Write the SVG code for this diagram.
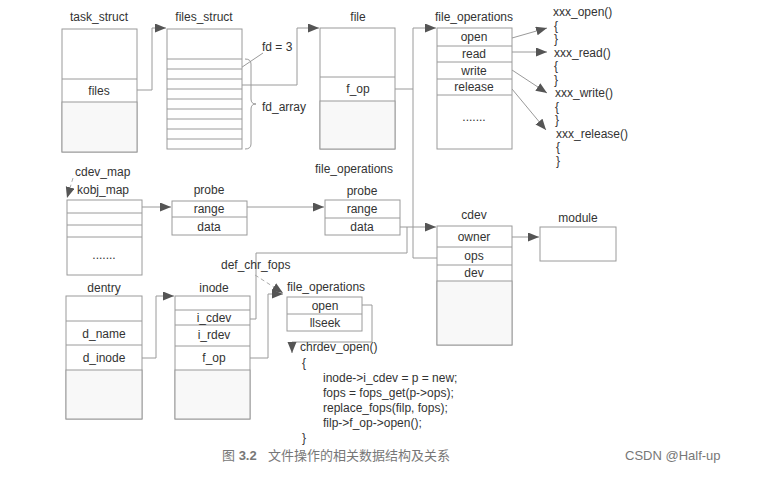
<svg xmlns="http://www.w3.org/2000/svg" width="758" height="479" viewBox="0 0 758 479">
<style>
.bx{fill:#fff;stroke:#9a9a9a;stroke-width:1}
.sh{fill:#f8f8f8;stroke:#9a9a9a;stroke-width:1}
.dv{stroke:#9a9a9a;stroke-width:1;fill:none}
.ln{fill:none;stroke:#9a9a9a;stroke-width:1}
.ds{fill:none;stroke:#aaa;stroke-width:1;stroke-dasharray:4 3}
text{font-family:"Liberation Sans",Arial,sans-serif;font-size:12px;fill:#333}
.c{text-anchor:middle}
.cap{font-family:"Liberation Sans","Noto Sans CJK SC",sans-serif;font-size:13px;fill:#777}
</style>
<defs>
<marker id="ah" markerUnits="userSpaceOnUse" markerWidth="12" markerHeight="10" refX="11" refY="4.5" orient="auto">
<path d="M0,0 L11,4.5 L0,9 z" fill="#555"/>
</marker>
</defs>
<rect width="758" height="479" fill="#fff"/>

<g id="connectors">
<polyline class="ln" points="137,90 152,90 152,28 166,28" marker-end="url(#ah)"/>
<polyline class="ln" points="242,85 297,85 297,28 319,28" marker-end="url(#ah)"/>
<polyline class="ln" points="395,89 413,89 413,28 436,28" marker-end="url(#ah)"/>
<polyline class="ln" points="413,89 413,258 437,258"/>
<line class="ln" x1="512" y1="38" x2="547" y2="28" marker-end="url(#ah)"/>
<line class="ln" x1="512" y1="52" x2="547" y2="52" marker-end="url(#ah)"/>
<line class="ln" x1="512" y1="70" x2="547" y2="93" marker-end="url(#ah)"/>
<line class="ln" x1="512" y1="89" x2="546" y2="130" marker-end="url(#ah)"/>
<line class="ln" x1="263" y1="53" x2="220" y2="82"/>
<path class="ln" d="M245,59 Q251,59 251,64 L251,99 Q251,104 256,104 Q251,104 251,109 L251,144 Q251,149 245,149"/>
<line class="ds" x1="73" y1="178" x2="67" y2="198" marker-end="url(#ah)"/>
<line class="ln" x1="142" y1="207" x2="171" y2="207" marker-end="url(#ah)"/>
<line class="ln" x1="247" y1="207" x2="324" y2="207" marker-end="url(#ah)"/>
<line class="ln" x1="400" y1="227" x2="436" y2="227" marker-end="url(#ah)"/>
<polyline class="ln" points="250,319 256,319 256,253 407,253 407,227"/>
<line class="ln" x1="512" y1="237" x2="539" y2="237" marker-end="url(#ah)"/>
<polyline class="ln" points="142,358 156,358 156,296 174,296" marker-end="url(#ah)"/>
<polyline class="ln" points="250,358 268,358 268,294 283,294" marker-end="url(#ah)"/>
<line class="ds" x1="255" y1="275" x2="283" y2="293" marker-end="url(#ah)"/>
<polyline class="ln" points="362,305 372,305 372,342 292,342 292,353" marker-end="url(#ah)"/>
</g>

<g id="task_struct">
<text class="c" x="99" y="21">task_struct</text>
<rect class="bx" x="62" y="29" width="75" height="123"/>
<rect class="sh" x="62" y="102" width="75" height="50"/>
<line class="dv" x1="62" y1="79" x2="137" y2="79"/>
<text class="c" x="99" y="95">files</text>
</g>

<g id="files_struct">
<text class="c" x="204" y="21">files_struct</text>
<rect class="bx" x="167" y="29" width="75" height="120"/>
<path class="dv" d="M167,59H242M167,69H242M167,79H242M167,89H242M167,99H242M167,109H242M167,119H242M167,129H242M167,139H242"/>
<text x="262" y="51">fd = 3</text>
<text x="262" y="111">fd_array</text>
</g>

<g id="file">
<text class="c" x="358" y="21">file</text>
<rect class="bx" x="320" y="28" width="75" height="121"/>
<rect class="sh" x="320" y="101" width="75" height="48"/>
<line class="dv" x1="320" y1="77" x2="395" y2="77"/>
<text class="c" x="358" y="93">f_op</text>
</g>

<g id="file_operations_top">
<text class="c" x="474" y="21">file_operations</text>
<rect class="bx" x="437" y="28" width="75" height="121"/>
<path class="dv" d="M437,46H512M437,62H512M437,79H512M437,95H512"/>
<text class="c" x="474" y="41">open</text>
<text class="c" x="474" y="58">read</text>
<text class="c" x="474" y="75">write</text>
<text class="c" x="474" y="91">release</text>
<text class="c" x="474" y="121">.......</text>
</g>

<g id="xxx_funcs">
<text x="553" y="16">xxx_open()</text>
<text x="554" y="29.5">{</text>
<text x="554" y="43">}</text>
<text x="554" y="56.5">xxx_read()</text>
<text x="554" y="70">{</text>
<text x="554" y="83.5">}</text>
<text x="555" y="97">xxx_write()</text>
<text x="555" y="110.5">{</text>
<text x="555" y="124">}</text>
<text x="556" y="137.5">xxx_release()</text>
<text x="556" y="151">{</text>
<text x="556" y="164.5">}</text>
</g>

<g id="kobj_map">
<text x="75" y="176">cdev_map</text>
<text x="77" y="194">kobj_map</text>
<rect class="bx" x="67" y="200" width="75" height="75"/>
<path class="dv" d="M67,213H142M67,225H142M67,237H142"/>
<text class="c" x="104" y="259">.......</text>
</g>

<g id="probe1">
<text class="c" x="209" y="194">probe</text>
<rect class="bx" x="172" y="201" width="75" height="34"/>
<line class="dv" x1="172" y1="217" x2="247" y2="217"/>
<text class="c" x="209" y="213">range</text>
<text class="c" x="209" y="231">data</text>
</g>

<g id="probe2">
<text class="c" x="354" y="173">file_operations</text>
<text class="c" x="362" y="195">probe</text>
<rect class="bx" x="325" y="200" width="75" height="35"/>
<line class="dv" x1="325" y1="218" x2="400" y2="218"/>
<text class="c" x="362" y="213">range</text>
<text class="c" x="362" y="231">data</text>
</g>

<g id="cdev">
<text class="c" x="474" y="219">cdev</text>
<rect class="bx" x="437" y="226" width="75" height="119"/>
<rect class="sh" x="437" y="281" width="75" height="64"/>
<path class="dv" d="M437,247H512M437,265H512"/>
<text class="c" x="474" y="241">owner</text>
<text class="c" x="474" y="260">ops</text>
<text class="c" x="474" y="277">dev</text>
</g>

<g id="module">
<text class="c" x="578" y="222">module</text>
<rect class="bx" x="540" y="227" width="76" height="34"/>
</g>

<g id="def_chr_fops">
<text x="221" y="269">def_chr_fops</text>
</g>

<g id="dentry">
<text class="c" x="104" y="292">dentry</text>
<rect class="bx" x="66" y="296" width="76" height="123"/>
<rect class="sh" x="66" y="370" width="76" height="49"/>
<path class="dv" d="M66,321H142M66,345H142"/>
<text class="c" x="104" y="338">d_name</text>
<text class="c" x="104" y="362">d_inode</text>
</g>

<g id="inode">
<text class="c" x="214" y="292">inode</text>
<rect class="bx" x="175" y="296" width="75" height="123"/>
<rect class="sh" x="175" y="370" width="75" height="49"/>
<path class="dv" d="M175,310H250M175,325H250M175,346H250"/>
<text class="c" x="214" y="322">i_cdev</text>
<text class="c" x="214" y="339">i_rdev</text>
<text class="c" x="214" y="362">f_op</text>
</g>

<g id="file_operations_chr">
<text x="287" y="291">file_operations</text>
<rect class="bx" x="287" y="297" width="75" height="34"/>
<line class="dv" x1="287" y1="314" x2="362" y2="314"/>
<text class="c" x="325" y="310">open</text>
<text class="c" x="325" y="327">llseek</text>
</g>

<g id="chrdev_open">
<text x="300" y="351">chrdev_open()</text>
<text x="302" y="367">{</text>
<text x="323" y="382">inode-&gt;i_cdev = p = new;</text>
<text x="323" y="397">fops = fops_get(p-&gt;ops);</text>
<text x="323" y="412">replace_fops(filp, fops);</text>
<text x="323" y="427">filp-&gt;f_op-&gt;open();</text>
<text x="302" y="442">}</text>
</g>

<g id="caption">
<text class="cap" x="222" y="460">图 <tspan font-weight="bold">3.2</tspan></text>
<text class="cap" x="268" y="460">文件操作的相关数据结构及关系</text>
<text class="cap" x="625" y="460">CSDN @Half-up</text>
</g>
</svg>
